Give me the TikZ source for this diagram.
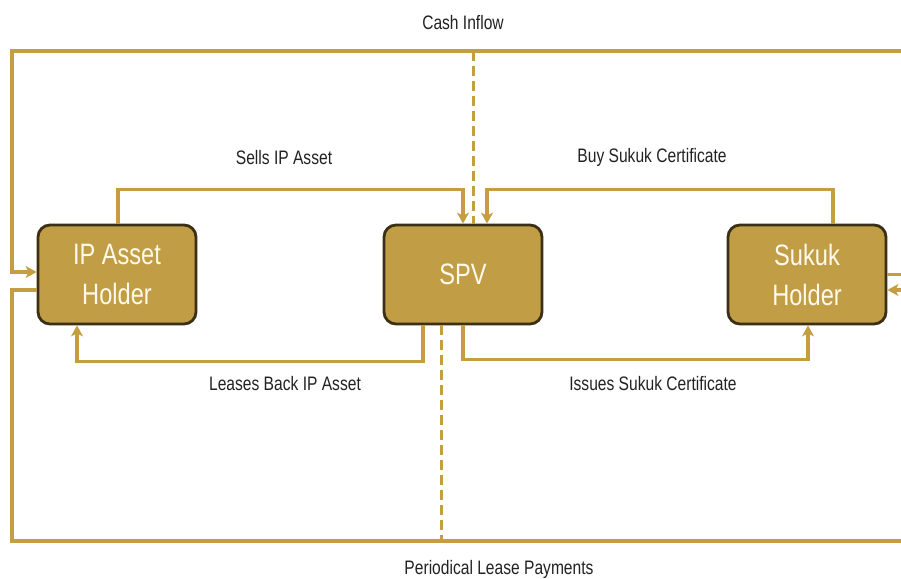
\documentclass[tikz,border=0pt]{standalone}
\usepackage{fontspec}
\setmainfont{Liberation Sans}[FakeStretch=0.8]
\usetikzlibrary{arrows.meta}
\definecolor{lineGold}{RGB}{196,158,64}
\definecolor{boxGold}{RGB}{193,157,69}
\definecolor{boxEdge}{RGB}{60,48,20}
\definecolor{boxText}{RGB}{255,250,235}
\definecolor{labText}{RGB}{34,34,34}
\tikzset{
  party/.style={rounded corners=12pt, minimum width=158pt, minimum height=99pt,
    fill=boxGold, draw=boxEdge, line width=2.8pt, text=boxText, align=center,
    font=\fontsize{29.5}{40}\selectfont, inner sep=0pt},
  flow/.style={draw=lineGold, line width=3.2pt, -{Stealth[length=11pt,width=12pt,inset=3pt]}},
  dashflow/.style={draw=lineGold, line width=3pt, dash pattern=on 10pt off 5pt},
  lab/.style={text=labText, font=\fontsize{19.5}{22}\selectfont, inner sep=0pt}
}
\begin{document}
\begin{tikzpicture}[x=1pt,y=-1pt]
\useasboundingbox (0,0) rectangle (901,578);
\clip (0,0) rectangle (901,578);

\node[party] (ip) at (117,274.5) {IP Asset\\Holder};
\node[party] (spv) at (463,274.5) {SPV};
\node[party] (sukuk) at (807,274.5) {Sukuk\\Holder};

% corner coordinates of the outer loops
\coordinate (tl) at (12,51);
\coordinate (tr) at (925,51);
\coordinate (bl) at (12,541);
\coordinate (br) at (925,541);

% Cash inflow loop
\draw[flow] (sukuk.east) -| (tr) -- (tl) |- ([yshift=2.5pt]ip.west);
% Periodical lease payments loop
\draw[flow] ([yshift=-15.5pt]ip.west) -| (bl) -- (br) |- ([yshift=-15.5pt]sukuk.east);

% Sells IP Asset
\draw[flow] ([xshift=1pt]ip.north) -- ++(0,-34.5) -| (spv.north);
% Buy Sukuk Certificate
\draw[flow] ([xshift=26pt]sukuk.north) -- ++(0,-34.5) -| ([xshift=24pt]spv.north);
% Leases Back IP Asset
\draw[flow] ([xshift=-40pt]spv.south) -- ++(0,36) -| ([xshift=-40pt]ip.south);
% Issues Sukuk Certificate
\draw[flow] (spv.south) -- ++(0,34) -| ([xshift=1pt]sukuk.south);

% dashed links
\coordinate (dtop) at (473,51);
\coordinate (dbot) at (441,541);
\draw[dashflow] (dtop) -- ([xshift=10pt]spv.north);
\draw[dashflow] ([xshift=-22pt]spv.south) -- (dbot);

% labels
\node[lab] (l1) at (463,23) {Cash Inflow};
\node[lab] (l2) at (284,158) {Sells IP Asset};
\node[lab] (l3) at (652,157) {Buy Sukuk Certificate};
\node[lab] (l4) at (285,384) {Leases Back IP Asset};
\node[lab] (l5) at (653,384) {Issues Sukuk Certificate};
\node[lab] (l6) at (499,569) {Periodical Lease Payments};
\end{tikzpicture}
\end{document}
